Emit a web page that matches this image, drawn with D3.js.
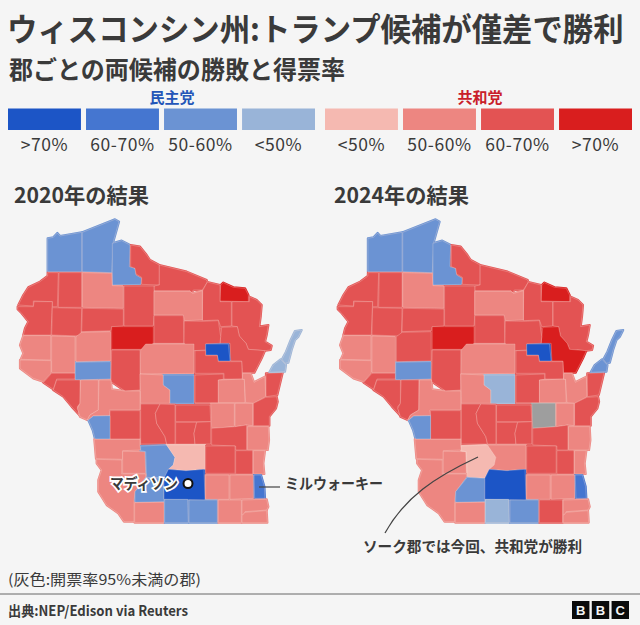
<!DOCTYPE html>
<html>
<head>
<meta charset="utf-8">
<script src="https://cdn.jsdelivr.net/npm/d3@7"></script>
<style>
  html, body { margin: 0; padding: 0; background: #f5f5f5; }
  svg { display: block; }
  text { font-family: "Noto Sans CJK JP", "Noto Sans", sans-serif; fill: #3a3a3a; }
</style>
</head>
<body>
<svg></svg>
<script>
// result codes: -4 dem >70, -3 dem 60-70, -2 dem 50-60, -1 dem <50, 1..4 same for rep, 0 = under 95% counted
var legendCodes = [-4, -3, -2, -1, 1, 2, 3, 4];
var legendLabels = [">70%", "60-70%", "50-60%", "<50%", "<50%", "50-60%", "60-70%", ">70%"];
var legendColors = ["#1c55c6", "#4576d0", "#6b93d3", "#99b4d8", "#f5b9b1", "#ed8681", "#e35353", "#d91e1e"];

// county outlines, in map units
var countyShapes = [
  [[143,115],[160,112],[172,99],[180,108],[245,97],[245,215],[143,215]],
  [[247,97],[345,58],[357,65],[340,125],[335,218],[247,215]],
  [[337,130],[365,122],[390,135],[388,200],[405,205],[408,225],[425,235],[423,253],[337,255]],
  [[392,135],[420,140],[440,165],[450,180],[478,195],[478,255],[425,253],[425,232],[408,222],[405,205],[392,200]],
  [[478,195],[560,215],[620,240],[622,246],[607,270],[580,270],[575,278],[570,272],[462,272],[462,258],[478,255]],
  [[662,255],[670,248],[700,262],[735,265],[745,285],[745,305],[660,303]],
  [[622,246],[660,255],[660,305],[694,305],[694,378],[662,380],[655,360],[607,362],[608,272]],
  [[696,305],[748,305],[748,290],[770,300],[785,315],[782,350],[778,380],[805,375],[800,405],[795,425],[815,437],[812,450],[795,452],[745,448],[738,430],[718,408],[712,380],[696,378]],
  [[665,382],[712,380],[718,408],[738,430],[745,448],[795,452],[785,475],[763,518],[727,518],[725,483],[692,483],[690,430],[660,430],[662,410]],
  [[143,218],[143,228],[120,245],[85,262],[70,285],[55,315],[100,318],[100,303],[157,305],[157,320],[172,320],[175,218]],
  [[53,320],[100,320],[102,305],[157,305],[153,405],[70,405],[75,385],[85,365],[65,340],[53,328]],
  [[177,218],[245,218],[245,322],[175,322]],
  [[247,218],[335,220],[337,257],[370,258],[370,325],[247,322]],
  [[157,323],[245,325],[243,408],[155,405]],
  [[247,325],[370,327],[370,378],[335,380],[333,392],[245,395]],
  [[372,258],[462,258],[462,345],[460,378],[372,378]],
  [[462,274],[570,274],[578,280],[607,272],[607,360],[553,362],[550,345],[462,345]],
  [[462,347],[550,347],[552,430],[462,430]],
  [[553,363],[607,364],[655,362],[662,410],[660,430],[617,432],[617,450],[582,452],[552,430]],
  [[617,432],[685,432],[690,483],[655,483],[652,465],[617,465]],
  [[70,407],[152,407],[152,480],[62,478],[70,460],[60,435]],
  [[155,408],[225,410],[225,518],[155,518]],
  [[228,410],[245,397],[332,395],[332,483],[228,485]],
  [[60,480],[153,482],[153,520],[130,545],[100,535],[60,505]],
  [[155,520],[225,520],[225,537],[170,537],[160,568],[130,548]],
  [[226,487],[332,485],[332,537],[226,540]],
  [[335,380],[372,380],[460,380],[460,430],[435,448],[335,448]],
  [[437,432],[582,432],[582,520],[420,522],[422,450]],
  [[335,450],[420,450],[420,570],[375,573],[333,545]],
  [[585,452],[617,452],[617,467],[652,467],[655,485],[725,485],[727,537],[672,537],[672,520],[585,520]],
  [[798,520],[848,518],[832,585],[798,590]],
  [[846,478],[858,455],[872,420],[885,393],[905,390],[895,410],[885,420],[875,450],[865,488],[855,490]],
  [[808,517],[820,495],[842,478],[858,495],[855,515]],
  [[420,522],[490,525],[490,555],[510,570],[510,610],[422,610]],
  [[490,525],[582,525],[582,610],[510,610],[510,570],[490,555]],
  [[585,525],[670,522],[670,538],[655,540],[655,608],[585,608]],
  [[655,540],[733,537],[735,608],[655,608]],
  [[728,520],[752,520],[762,547],[795,530],[797,590],[760,610],[737,608],[733,538],[727,538]],
  [[760,610],[797,592],[830,590],[833,605],[828,625],[808,650],[808,677],[760,677]],
  [[632,610],[703,610],[703,680],[635,685]],
  [[705,610],[758,610],[758,677],[740,675],[705,680]],
  [[527,615],[630,615],[632,665],[527,665]],
  [[422,612],[480,612],[466,640],[470,670],[495,710],[500,732],[422,732]],
  [[480,612],[525,614],[525,732],[500,732],[495,710],[470,670],[466,640]],
  [[527,667],[590,667],[582,700],[585,732],[527,732]],
  [[590,667],[632,665],[632,732],[585,732],[582,700]],
  [[635,685],[705,680],[740,675],[740,750],[707,750],[707,738],[635,735]],
  [[742,680],[805,680],[807,720],[803,750],[742,750]],
  [[170,540],[240,540],[240,610],[232,620],[238,645],[215,620],[190,590],[160,570]],
  [[242,540],[295,540],[295,630],[270,645],[262,660],[240,650],[232,625],[240,610]],
  [[297,540],[333,540],[335,568],[375,573],[420,573],[420,630],[328,630],[330,647],[280,648],[265,660],[262,660],[270,645],[295,630]],
  [[330,632],[420,632],[420,717],[330,717]],
  [[265,660],[280,648],[330,647],[330,717],[285,717],[278,690]],
  [[283,718],[420,718],[420,736],[422,750],[368,752],[368,778],[288,776]],
  [[368,754],[435,755],[437,820],[368,820]],
  [[422,738],[500,735],[525,772],[520,795],[505,810],[492,835],[440,832],[437,755],[422,752]],
  [[500,735],[615,735],[615,808],[558,812],[505,808],[520,795],[525,772]],
  [[617,738],[705,738],[705,820],[617,820]],
  [[707,752],[758,752],[758,822],[707,822]],
  [[760,752],[795,752],[790,790],[793,822],[760,822]],
  [[290,778],[365,780],[365,822],[437,822],[437,832],[405,875],[402,907],[402,965],[372,965],[355,940],[320,915],[295,875],[295,840],[305,810],[290,790]],
  [[440,832],[492,835],[492,905],[405,907],[405,875]],
  [[505,808],[558,812],[612,808],[615,900],[492,898],[492,835]],
  [[617,825],[687,825],[687,898],[617,898]],
  [[690,825],[760,825],[760,895],[690,898]],
  [[762,825],[783,825],[793,860],[795,895],[764,895]],
  [[404,908],[492,907],[492,968],[404,968]],
  [[494,898],[563,898],[565,968],[494,968]],
  [[567,900],[652,900],[652,968],[567,968]],
  [[655,900],[724,900],[724,968],[655,968]],
  [[726,900],[800,898],[805,920],[800,930],[735,935],[730,945],[726,945]],
  [[726,947],[735,937],[800,932],[802,968],[726,968]]
];

var result2020 = [-2,-2,-2,3,3,4,3,3,3,3,3,3,2,3,3,3,2,3,3,-4,2,2,2,2,3,-2,4,2,3,3,3,-1,-1,2,-2,3,2,2,3,2,2,3,3,3,3,3,3,2,3,2,2,3,-2,2,2,-2,1,3,3,2,2,-2,-4,2,2,-3,2,-2,-2,2,2,2];
var result2024 = [-2,-2,-2,3,3,4,3,3,4,3,3,3,2,3,3,3,2,3,3,-4,2,2,3,2,3,-2,4,2,3,3,3,-2,-2,2,-1,3,2,2,3,0,2,3,3,3,3,3,3,2,3,3,2,3,-2,2,2,1,2,3,3,2,2,-2,-4,2,2,-3,2,-1,-2,3,2,2];

var yearTitles = ["2020年の結果", "2024年の結果"];

var svg = d3.select("svg").attr("width", 640).attr("height", 625);

var fill = d3.scaleOrdinal().domain(legendCodes.concat([0])).range(legendColors.concat(["#9e9e9e"]));

// Headline, squeezed sideways to the reference's width
var headline = svg.append("text")
  .attr("font-size", 31.5).attr("font-weight", 700)
  .text("ウィスコンシン州:トランプ候補が僅差で勝利");
var squeeze = 617 / headline.node().getComputedTextLength();
headline.attr("transform", `translate(7,41) scale(${squeeze},1)`);

svg.append("text").attr("x", 9).attr("y", 79)
  .attr("font-size", 25).attr("font-weight", 700)
  .attr("textLength", 336).attr("lengthAdjust", "spacingAndGlyphs")
  .text("郡ごとの両候補の勝敗と得票率");

// Legend
var legendX = d3.scaleBand().domain(d3.range(4)).range([8, 315]).paddingInner(0.065);
var legendX2 = d3.scaleBand().domain(d3.range(4)).range([325, 632]).paddingInner(0.065);
function keyX(i) { return i < 4 ? legendX(i) : legendX2(i - 4); }
var keyW = legendX.bandwidth();

svg.selectAll(".key").data(legendCodes).enter().append("rect")
  .attr("class", "key")
  .attr("x", (d, i) => keyX(i)).attr("y", 108.5)
  .attr("width", keyW).attr("height", 21.5)
  .attr("fill", d => fill(d));

svg.selectAll(".key-label").data(legendLabels).enter().append("text")
  .attr("class", "key-label")
  .attr("x", (d, i) => keyX(i) + keyW / 2).attr("y", 151)
  .attr("text-anchor", "middle").attr("font-size", 17.5)
  .style("letter-spacing", "0.6px")
  .text(d => d);

svg.append("text").attr("x", 172).attr("y", 103).attr("text-anchor", "middle")
  .attr("font-size", 15).attr("font-weight", 700).style("fill", "#2456b8").text("民主党");
svg.append("text").attr("x", 480).attr("y", 103).attr("text-anchor", "middle")
  .attr("font-size", 15).attr("font-weight", 700).style("fill", "#c9202a").text("共和党");

// Maps
var y = d3.scaleLinear().domain([0, 969]).range([200, 523]);
var xLeft = d3.scaleLinear().domain([0, 960]).range([0, 320]);
var xRight = d3.scaleLinear().domain([0, 960]).range([320, 641.6]);

function drawMap(x, values, title, titleX) {
  var line = d3.line().x(d => x(d[0])).y(d => y(d[1])).curve(d3.curveLinearClosed);
  // thick pass in the county colour closes the small gaps between hand-read outlines
  svg.append("g").selectAll("path").data(countyShapes).enter().append("path")
    .attr("d", line)
    .attr("fill", (d, i) => fill(values[i]))
    .attr("stroke", (d, i) => fill(values[i])).attr("stroke-width", 2.2).attr("stroke-linejoin", "round");
  svg.append("g").selectAll("path").data(countyShapes).enter().append("path")
    .attr("d", line)
    .attr("fill", (d, i) => fill(values[i]))
    .attr("stroke", "#fbe3df").attr("stroke-opacity", 0.45).attr("stroke-width", 0.6).attr("stroke-linejoin", "round");
  svg.append("text").attr("x", titleX).attr("y", 203)
    .attr("font-size", 21).attr("font-weight", 700)
    .attr("textLength", 135).attr("lengthAdjust", "spacingAndGlyphs")
    .text(title);
}
drawMap(xLeft, result2020, yearTitles[0], 14);
drawMap(xRight, result2024, yearTitles[1], 334);

// Madison marker and Milwaukee pointer
svg.append("text").attr("x", 110).attr("y", 489)
  .attr("font-size", 15).attr("font-weight", 700)
  .attr("textLength", 68).attr("lengthAdjust", "spacingAndGlyphs")
  .attr("stroke", "#fff").attr("stroke-width", 3.5).attr("paint-order", "stroke")
  .text("マディソン");
svg.append("circle").attr("cx", 188).attr("cy", 483.5).attr("r", 4.5)
  .attr("fill", "#fff").attr("stroke", "#111").attr("stroke-width", 2);

svg.append("line").attr("x1", 259).attr("x2", 280).attr("y1", 487).attr("y2", 487)
  .attr("stroke", "#444").attr("stroke-width", 1.2);
svg.append("text").attr("x", 285).attr("y", 489).attr("font-size", 15).attr("font-weight", 700)
  .attr("textLength", 98).attr("lengthAdjust", "spacingAndGlyphs")
  .text("ミルウォーキー");

// Sauk county callout
svg.append("path")
  .attr("d", "M478,457 C435,477 405,497 385,533")
  .attr("fill", "none").attr("stroke", "#444").attr("stroke-width", 1.3);
svg.append("text").attr("x", 363).attr("y", 552).attr("font-size", 15).attr("font-weight", 700)
  .attr("textLength", 219).attr("lengthAdjust", "spacingAndGlyphs")
  .text("ソーク郡では今回、共和党が勝利");

// Footer
svg.append("text").attr("x", 8).attr("y", 585).attr("font-size", 14.5)
  .attr("textLength", 193).attr("lengthAdjust", "spacingAndGlyphs")
  .text("(灰色:開票率95%未満の郡)");
svg.append("line").attr("x1", 0).attr("x2", 640).attr("y1", 594).attr("y2", 594)
  .attr("stroke", "#666").attr("stroke-width", 1);
svg.append("text").attr("x", 8).attr("y", 616).attr("font-size", 14).attr("font-weight", 700)
  .attr("textLength", 180).attr("lengthAdjust", "spacingAndGlyphs")
  .text("出典:NEP/Edison via Reuters");

var bbc = ["B", "B", "C"];
var bbcX = d3.scaleBand().domain(d3.range(3)).range([572, 629]).paddingInner(0.12);
var logo = svg.selectAll(".bbc").data(bbc).enter().append("g").attr("class", "bbc");
logo.append("rect").attr("x", (d, i) => bbcX(i)).attr("y", 601)
  .attr("width", bbcX.bandwidth()).attr("height", 18).attr("fill", "#0b0b0b");
logo.append("text").attr("x", (d, i) => bbcX(i) + bbcX.bandwidth() / 2).attr("y", 615)
  .attr("text-anchor", "middle").attr("font-size", 13).attr("font-weight", 700)
  .style("font-family", "'Liberation Sans', sans-serif").style("fill", "#f5f5f5")
  .text(d => d);
</script>
</body>
</html>
